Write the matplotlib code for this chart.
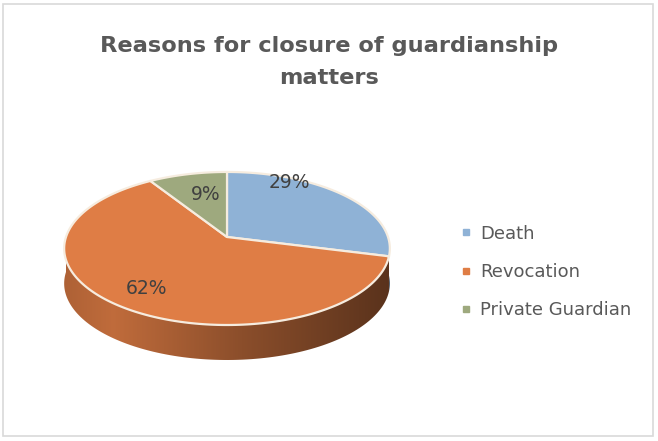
import numpy as np
import matplotlib
matplotlib.use("Agg")
import matplotlib.pyplot as plt
from matplotlib.patches import Polygon, Rectangle
from matplotlib.lines import Line2D
from matplotlib.colors import LinearSegmentedColormap, to_rgb

# Data
LABELS = ["Death", "Revocation", "Private Guardian"]
VALUES = [29, 62, 9]
COLORS = ["#8fb2d6", "#df7d45", "#9ea97e"]

TITLE = "Reasons for closure of guardianship\nmatters"
INK = "#595959"
EDGE = "#f6ecdf"

# pie geometry in pixels (y grows downward)
CX, CY = 227, 237
A, B, K = 161, 74.8, 0.15
DEPTH = 35
# label placement per slice: (angle offset from slice middle, radius)
LABEL_POS = [(-24, 0.92), (0, 0.77), (3, 0.64)]


def proj(phi_deg, r=1.0, dy=0.0):
    phi = np.radians(phi_deg)
    u, v = r * np.sin(phi), r * np.cos(phi)
    s = 1.0 / (1.0 + K * v)
    return CX + A * u * s, CY - B * v * s + dy


fig = plt.figure(figsize=(6.58, 4.41), dpi=100)
fig.patch.set_facecolor("white")
ax = fig.add_axes([0, 0, 1, 1])
ax.set_xlim(0, 658)
ax.set_ylim(441, 0)
ax.axis("off")

ax.add_patch(Rectangle((3, 4), 650, 432, fill=False, ec="#d9d9d9", lw=1.2))

fracs = np.array(VALUES, float) / sum(VALUES)
bounds = np.concatenate([[0], np.cumsum(fracs) * 360])

# side wall (front half only)
for i, col in enumerate(COLORS):
    p1, p2 = max(bounds[i], 90), min(bounds[i + 1], 270)
    if p2 <= p1:
        continue
    phis = np.linspace(p1, p2, 120)
    tx, ty = proj(phis)
    bx, by = proj(phis[::-1], dy=DEPTH)
    poly = Polygon(np.column_stack([np.r_[tx, bx], np.r_[ty, by]]),
                   closed=True, fc="none", ec="none")
    ax.add_patch(poly)
    base = np.array(to_rgb(col))
    cmap = LinearSegmentedColormap.from_list(
        "side", [(0, base * 0.78), (0.15, base * 0.86),
                 (0.55, base * 0.62), (1, base * 0.40)])
    grad = np.linspace(0, 1, 256)[None, :]
    im = ax.imshow(grad, cmap=cmap, aspect="auto",
                   extent=[CX - A - 2, CX + A + 4, CY + 130, CY - 10])
    im.set_clip_path(poly)

# top face slices
for i, col in enumerate(COLORS):
    phis = np.linspace(bounds[i], bounds[i + 1], 200)
    x, y = proj(phis)
    pts = np.column_stack([np.r_[CX, x], np.r_[CY, y]])
    ax.add_patch(Polygon(pts, closed=True, fc=col, ec=EDGE, lw=1.6,
                         joinstyle="round"))

ax.set_xlim(0, 658)
ax.set_ylim(441, 0)

# data labels
for i, v in enumerate(VALUES):
    mid = (bounds[i] + bounds[i + 1]) / 2
    off, r = LABEL_POS[i]
    lx, ly = proj(mid + off, r)
    ax.text(lx, ly, f"{v}%", fontsize=13.5, color="#404040",
            ha="center", va="center")

ax.text(329, 62, TITLE, fontsize=16.2, fontweight="bold", color=INK,
        ha="center", va="center", linespacing=1.75)

handles = [Line2D([], [], marker="s", ls="none", color=c, markersize=4)
           for c in COLORS]
fig.legend(handles, LABELS, loc="center left",
           bbox_to_anchor=(444 / 658, 1 - 272 / 441), frameon=False,
           fontsize=13, labelcolor=INK, handlelength=0.6,
           handletextpad=0.48, labelspacing=1.12)

fig.savefig("out.png", dpi=100, facecolor="white")
